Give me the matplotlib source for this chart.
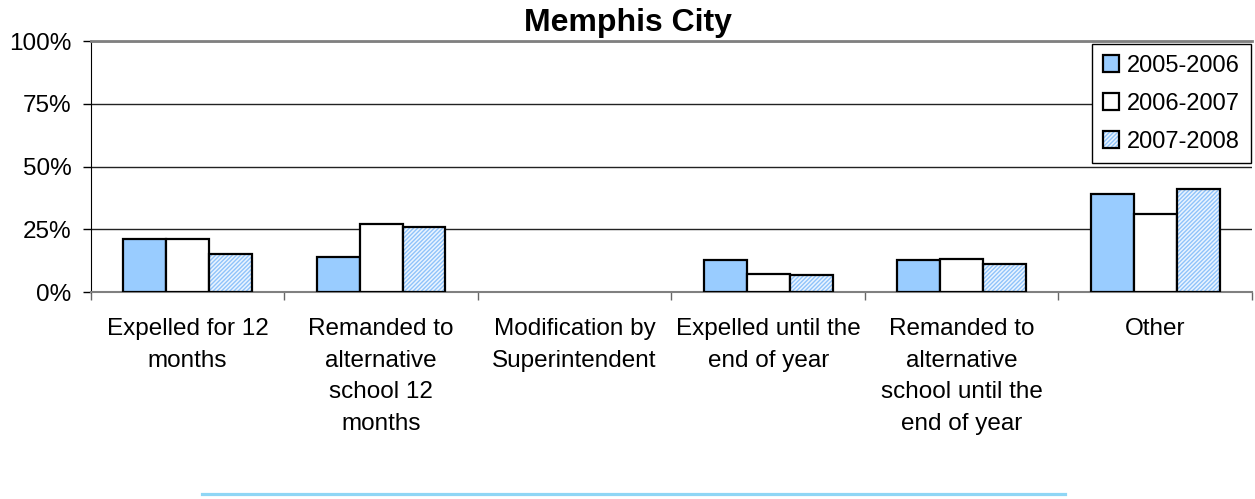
import matplotlib.pyplot as plt
from matplotlib.lines import Line2D
from matplotlib.legend_handler import HandlerTuple
import numpy as np

plt.rcParams['font.family'] = ['Liberation Sans', 'DejaVu Sans']
plt.rcParams['hatch.linewidth'] = 1.0

# data
categories = ["Expelled for 12\nmonths",
              "Remanded to\nalternative\nschool 12\nmonths",
              "Modification by\nSuperintendent",
              "Expelled until the\nend of year",
              "Remanded to\nalternative\nschool until the\nend of year",
              "Other"]
series_names = ["2005-2006", "2006-2007", "2007-2008"]
y2005 = [21, 14, 0, 12.8, 12.8, 39]
y2006 = [21, 27, 0, 7.3, 13.3, 31]
y2007 = [15, 26, 0, 6.7, 11.3, 41]
yticks = [0, 25, 50, 75, 100]

blue = '#99CCFF'
hatch_blue = '#8FC3FA'


def lw(vals):
    # no outline for empty bars
    return [1.6 if v > 0 else 0 for v in vals]


fig = plt.figure(figsize=(12.55, 4.99), dpi=100)
ax = fig.add_axes([0.0723, 0.4148, 0.9253, 0.503])

x = np.arange(len(categories))
w = 0.222

b1 = ax.bar(x - w, y2005, w, color=blue, edgecolor='black', linewidth=lw(y2005), zorder=3)
b2 = ax.bar(x, y2006, w, color='white', edgecolor='black', linewidth=lw(y2006), zorder=3)
# hatched bar: pattern first, then black outline on top
b3h = ax.bar(x + w, y2007, w, color='#EAF4FF', edgecolor=hatch_blue, hatch='////////',
             linewidth=0, zorder=3)
b3o = ax.bar(x + w, y2007, w, fill=False, edgecolor='black', linewidth=lw(y2007), zorder=4)

ax.set_xlim(-0.5, len(categories) - 0.5)
ax.set_ylim(0, 100)
ax.set_yticks(yticks)
ax.set_yticklabels([f"{v}%" for v in yticks], fontsize=17.5)
ax.yaxis.grid(True, color='#222222', linewidth=1.0, zorder=0)
ax.tick_params(axis='y', length=6, width=1, color='black', pad=8)

ax.set_xticks(x)
ax.set_xticklabels(categories, fontsize=17.5, linespacing=1.56, va='top')
ax.set_xticks(np.arange(len(categories) + 1) - 0.5, minor=True)
ax.tick_params(axis='x', which='major', length=0, pad=19)
ax.tick_params(axis='x', which='minor', length=6, width=1, color='#666666')

ax.spines['right'].set_visible(False)
ax.spines['top'].set_color('#808080')
ax.spines['top'].set_linewidth(2)
ax.spines['bottom'].set_color('#808080')
ax.spines['bottom'].set_linewidth(1.5)
ax.spines['left'].set_color('black')

fig.text(0.5, 0.954, "Memphis City", ha='center', va='center',
         fontsize=23, fontweight='bold')

leg = ax.legend([b1[0], b2[0], (b3h[0], b3o[0])], series_names,
                handler_map={tuple: HandlerTuple(ndivide=1, pad=0)},
                loc='upper right', bbox_to_anchor=(0.9968, 0.912),
                bbox_transform=fig.transFigure,
                fontsize=17, frameon=True, fancybox=False, framealpha=1,
                edgecolor='black', handlelength=0.68, handleheight=0.7,
                handletextpad=0.35, labelspacing=0.68, borderpad=0.45,
                borderaxespad=0)
leg.get_frame().set_linewidth(1.0)
leg.set_zorder(5)

fig.add_artist(Line2D([0.1607, 0.849], [0.0100, 0.0100], color='#8fd6f5',
                      linewidth=2.3, transform=fig.transFigure))

fig.savefig('out.png', dpi=100)
